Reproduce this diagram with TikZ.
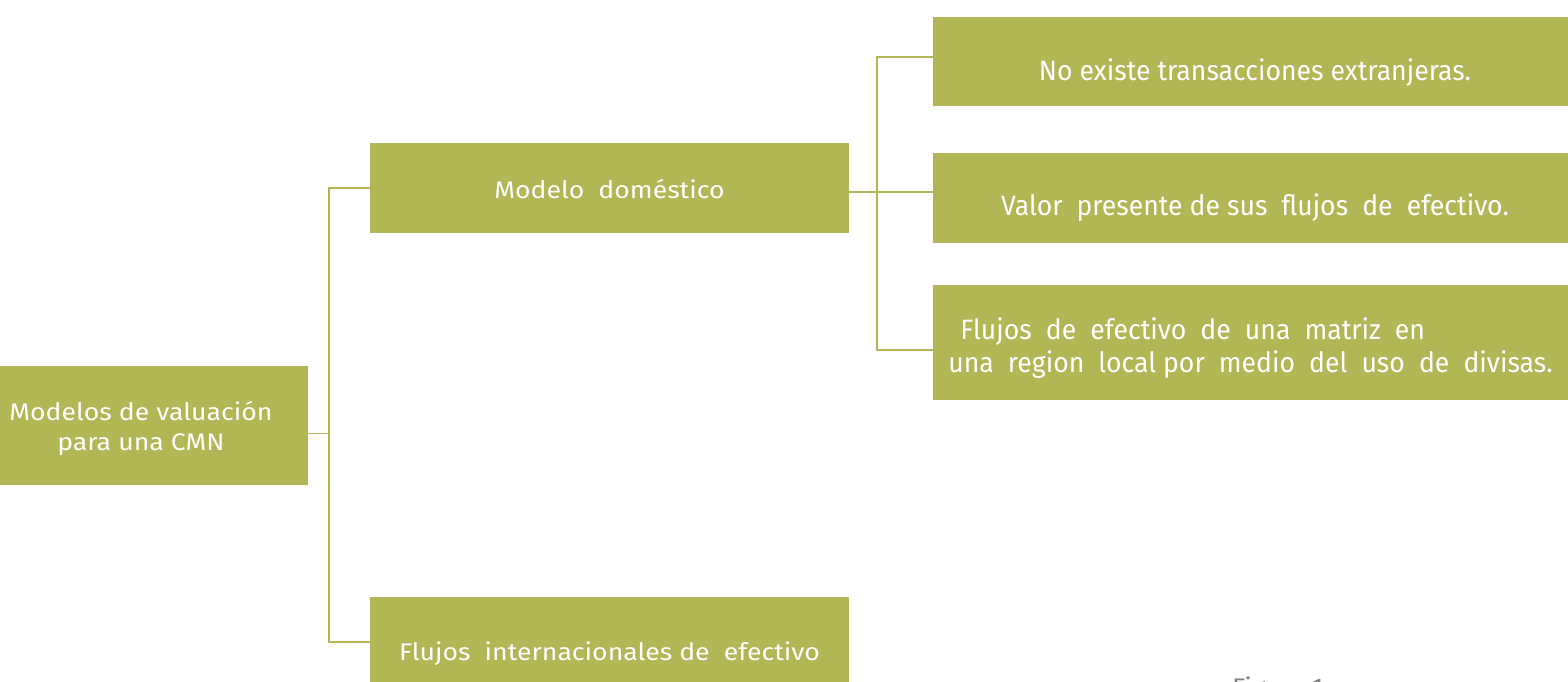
\documentclass[tikz,border=0pt]{standalone}
\usepackage{fontspec}
\setmainfont[FakeStretch=1.11]{Fira Sans}
\newfontfamily\condfont[FakeStretch=0.95]{Fira Sans}
\definecolor{boxolive}{HTML}{B2B655}
\definecolor{capgrey}{HTML}{7F7F7F}
\begin{document}
\begin{tikzpicture}[x=1pt,y=-1pt,
  box/.style={fill=boxolive, text=white, inner sep=0pt, align=center,
    font=\fontsize{24}{30}\selectfont, text height=25pt, text depth=5pt},
  cbox/.style={box, font=\condfont\fontsize{28}{33}\selectfont, text height=28pt, text depth=6pt},
  conn/.style={draw=boxolive, line width=1.8pt}]
\useasboundingbox (0,0) rectangle (1568,681);
\clip (0,0) rectangle (1568,681);
% boxes
\node[box, minimum width=334pt, minimum height=119pt, text height=55pt] (root) at (141,425.5)
  {Modelos de valuación\\para una CMN};
\node[box, minimum width=479pt, minimum height=90pt] (dom) at (609.5,188)
  {Modelo\ \ doméstico};
\node[box, minimum width=479pt, minimum height=90pt, text height=41pt] (intl) at (609.5,642)
  {Flujos\ \ internacionales de\ \ efectivo};
\node[cbox, minimum width=644pt, minimum height=89pt, text height=44pt] (b1) at (1255,61.5)
  {No existe transacciones extranjeras.};
\node[cbox, minimum width=644pt, minimum height=90pt, text height=41pt] (b2) at (1255,198)
  {Valor\ \ presente de sus\ \ flujos\ \ de\ \ efectivo.};
\node[cbox, minimum width=635pt, minimum height=115pt, align=left, text height=66pt] (b3) at (1250.5,342.5)
  {\hspace*{12pt}Flujos\ \ de\ \ efectivo\ \ de\ \ una\ \ matriz\ \ en\\una\ \ region\ \ local por\ \ medio\ \ del\ \ uso\ \ de\ \ divisas.};
% caption (cut off at the bottom edge)
\node[anchor=base west, inner sep=0pt, text=capgrey, font=\fontsize{24}{30}\selectfont] (cap) at (1232,695) {Figura 1};
% connectors
\draw[conn] ([yshift=-8pt]root.east) -- ++(21,0) coordinate (rj);
\draw[conn] (dom.west) -- (dom.west -| rj) |- (intl.west);
\draw[conn] ([yshift=-4pt]dom.east) -- ++(28,0) coordinate (dj);
\draw[conn] ([yshift=4.5pt]b1.west) -- ([yshift=4.5pt]b1.west -| dj) |- ([yshift=-7.5pt]b3.west);
\draw[conn] (dj) -- (dj -| b2.west);
\end{tikzpicture}
\end{document}
